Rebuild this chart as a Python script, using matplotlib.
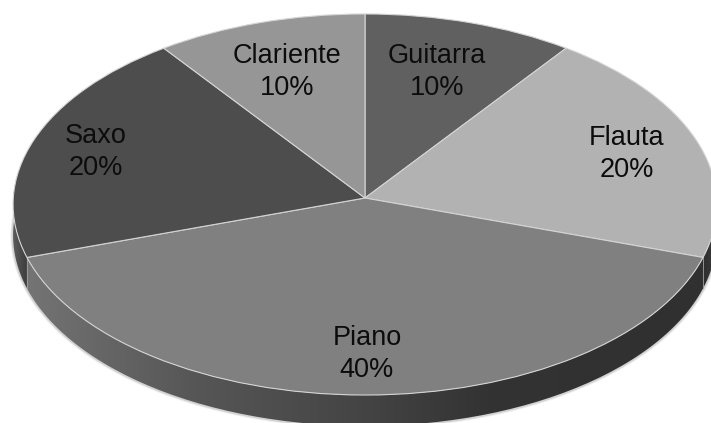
import numpy as np
import matplotlib
matplotlib.use("Agg")
import matplotlib.pyplot as plt
from matplotlib.colors import LinearSegmentedColormap
from matplotlib.patches import PathPatch
from matplotlib.path import Path
from matplotlib.transforms import Transform

plt.rcParams['font.family'] = ['Liberation Sans', 'DejaVu Sans']

categories = ["Guitarra", "Flauta", "Piano", "Saxo", "Clariente"]
values = [10, 20, 40, 20, 10]
colors = ["#606060", "#b2b2b2", "#808080", "#4d4d4d", "#969696"]
label_xy = [(437, 72), (627, 154), (367, 354), (96, 152), (287, 72)]

# tilted pie: apex in pixels, radii, perspective and wall height
CX, CY = 365, 198
RX, RY = 351.7, 190.3
K = 0.0341
DEPTH = 31


class Tilt(Transform):
    input_dims = 2
    output_dims = 2

    def transform_non_affine(self, pts):
        pts = np.asarray(pts, dtype=float)
        w = 1 + K * pts[:, 1]
        return np.column_stack([CX + RX * pts[:, 0] / w, CY - RY * pts[:, 1] / w])


tilt = Tilt()

fig = plt.figure(figsize=(7.11, 4.23), dpi=100)
ax = fig.add_axes([0, 0, 1, 1])


def rim(a0, a1):
    # rim points in pixels, angles clockwise from the top
    t = np.radians(np.linspace(a0, a1, 120))
    return tilt.transform_non_affine(np.column_stack([np.sin(t), np.cos(t)]))


def wall(a0, a1, stops, zorder=1):
    top = rim(a0, a1)
    low = top[::-1] + [0, DEPTH]
    pts = np.vstack([top, low, top[:1]])
    patch = PathPatch(Path(pts), fc="none", ec="none")
    ax.add_patch(patch)
    cmap = LinearSegmentedColormap.from_list("wall", stops)
    grad = np.linspace(0, 1, 256).reshape(1, -1)
    im = ax.imshow(grad, cmap=cmap, vmin=0, vmax=1, aspect="auto", zorder=zorder,
                   extent=[pts[:, 0].min(), pts[:, 0].max(), 423, 0])
    im.set_clip_path(patch)
    return top, low


wedges, _ = ax.pie(values, colors=colors, startangle=90, counterclock=False,
                   wedgeprops={"edgecolor": "#d4d4d4", "linewidth": 0.8, "zorder": 3})
for w in wedges:
    w.set_transform(tilt + ax.transData)

edges = np.cumsum(values) / np.sum(values) * 360

# only the walls that face the viewer
wall(edges[1] - 24, edges[1], ["#2e2e2e", "#3c3c3c"])
top, low = wall(edges[1], edges[2], [(0, "#747474"), (0.11, "#666666"), (0.25, "#565656"),
                                     (0.5, "#444444"), (0.68, "#333333"), (1, "#303030")], zorder=2)
wall(edges[2], edges[2] + 24, ["#5a5a5a", "#3e3e3e"])

# seams between walls
ax.plot([top[0, 0], low[-1, 0]], [top[0, 1], low[-1, 1]], color="#a0a0a0", lw=0.6, zorder=2.5)
ax.plot([top[-1, 0], low[0, 0]], [top[-1, 1], low[0, 1]], color="#a0a0a0", lw=0.6, zorder=2.5)

# soft shadow under the wall
shadow = rim(edges[1] - 24, edges[2] + 24) + [0, DEPTH]
for lw, a in [(4, 0.06), (2.5, 0.12)]:
    ax.plot(shadow[:, 0], shadow[:, 1], color="black", lw=lw, alpha=a, zorder=0.5)

for name, v, (x, y) in zip(categories, values, label_xy):
    ax.text(x, y, f"{name}\n{v}%", ha="center", va="center", fontsize=19.5,
            color="#0c0c0c", linespacing=1.27, zorder=5)

ax.set_xlim(0, 711)
ax.set_ylim(423, 0)
ax.set_aspect("auto")
ax.axis("off")

fig.savefig("out.png", dpi=100)
